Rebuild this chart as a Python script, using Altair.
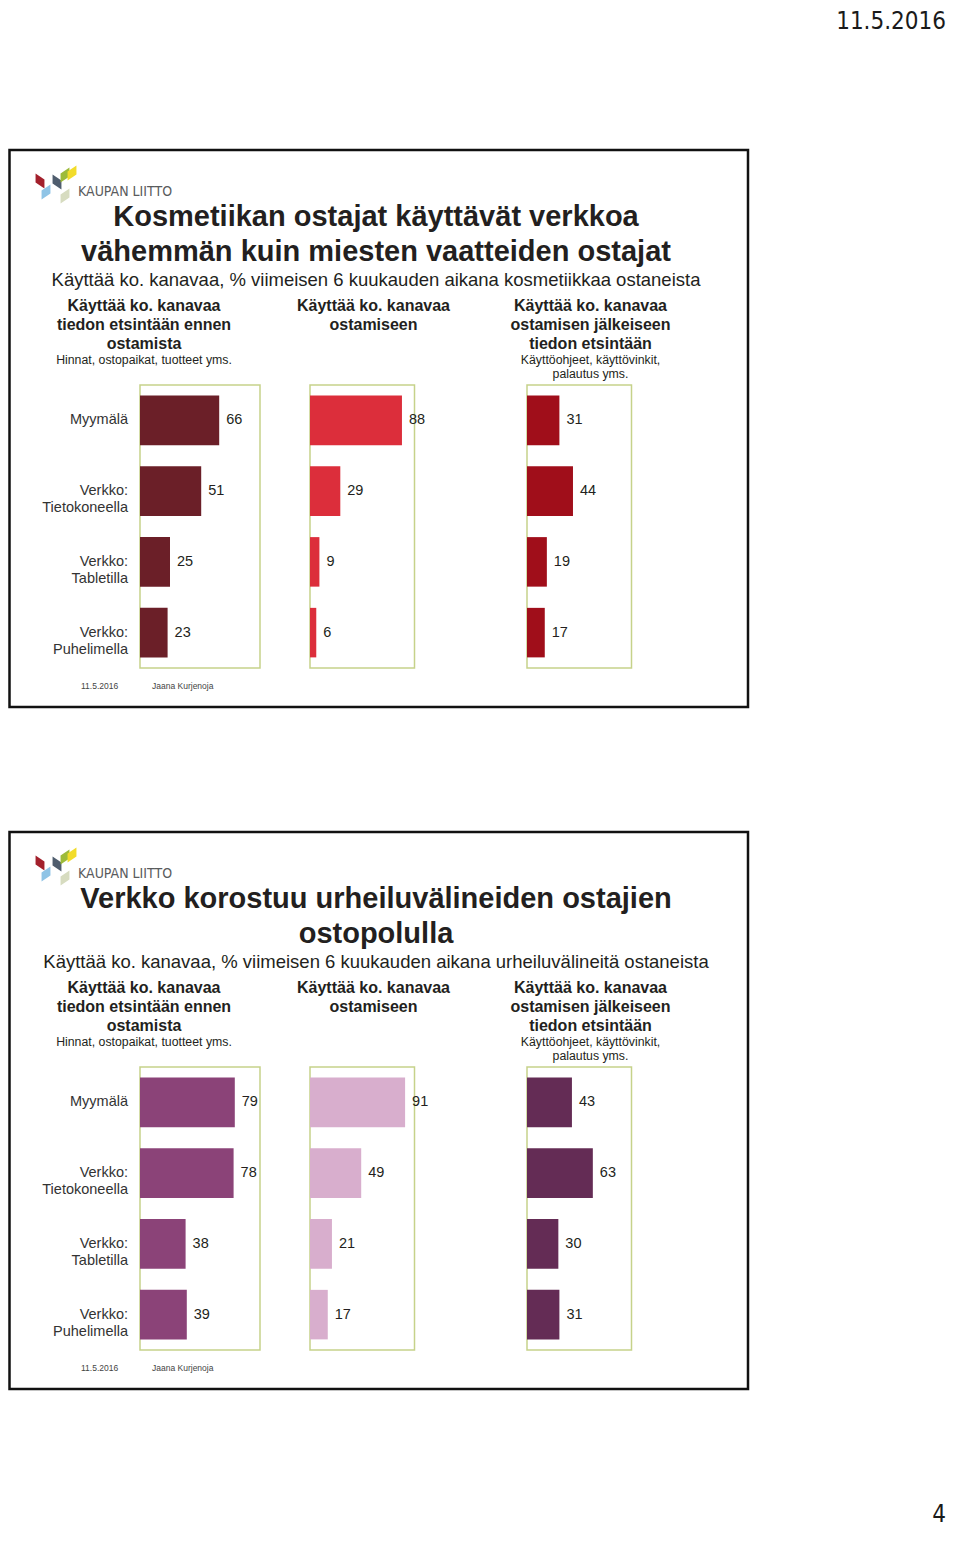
import altair as alt
import pandas as pd

# ---------------- data ----------------
categories = ["Myymälä", "Verkko: Tietokoneella", "Verkko: Tabletilla", "Verkko: Puhelimella"]
cat_labels = ["Myymälä", "Verkko:\nTietokoneella", "Verkko:\nTabletilla", "Verkko:\nPuhelimella"]

# slide 1: kosmetiikka
s1_before = [66, 51, 25, 23]
s1_buy = [88, 29, 9, 6]
s1_after = [31, 44, 19, 17]
# slide 2: urheiluvälineet
s2_before = [79, 78, 38, 39]
s2_buy = [91, 49, 21, 17]
s2_after = [43, 63, 30, 31]

s1_colors = ["#6b1f28", "#dc2e3b", "#a00e1a"]
s2_colors = ["#8b4378", "#d8aecd", "#642c55"]

s1_title = ["Kosmetiikan ostajat käyttävät verkkoa", "vähemmän kuin miesten vaatteiden ostajat"]
s1_sub = "Käyttää ko. kanavaa, % viimeisen 6 kuukauden aikana kosmetiikkaa ostaneista"
s2_title = ["Verkko korostuu urheiluvälineiden ostajien", "ostopolulla"]
s2_sub = "Käyttää ko. kanavaa, % viimeisen 6 kuukauden aikana urheiluvälineitä ostaneista"

head1 = ["Käyttää ko. kanavaa", "tiedon etsintään ennen", "ostamista"]
note1 = ["Hinnat, ostopaikat, tuotteet yms."]
head2 = ["Käyttää ko. kanavaa", "ostamiseen"]
head3 = ["Käyttää ko. kanavaa", "ostamisen jälkeiseen", "tiedon etsintään"]
note3 = ["Käyttöohjeet, käyttövinkit,", "palautus yms."]

page_date = "11.5.2016"
footer_date = "11.5.2016"
footer_author = "Jaana Kurjenoja"
page_number = "4"
logo_text = "KAUPAN LIITTO"
logo_colors = ["#a3202c", "#8fc4e6", "#4f5d6e", "#9dbb3a", "#f2dc2a", "#d7dcc0"]

# ---------------- layout helpers ----------------
SANS = "Liberation Sans, Arial, sans-serif"
NARROW = "Liberation Sans Narrow, DejaVu Sans Condensed, Liberation Sans, sans-serif"
COND = "DejaVu Sans Condensed, Liberation Sans Narrow, sans-serif"
OFF = 8  # page margin


def px(x):
    return x - OFF


def py(y):
    return y - OFF


one = pd.DataFrame({"k": [0]})


def txt(text, x, y, size, weight="normal", align="center", color="#231f20",
        font=SANS, baseline="alphabetic", lh=None):
    kw = dict(align=align, baseline=baseline, fontSize=size, fontWeight=weight,
              color=color, font=font)
    if lh is not None:
        kw["lineHeight"] = lh
    return alt.Chart(one).mark_text(**kw).encode(
        x=alt.value(px(x)), y=alt.value(py(y)), text=alt.value(text))


def panel(values, color, xr, yr, show_cats):
    df = pd.DataFrame({"cat": categories, "label": cat_labels, "v": values})
    xs = alt.Scale(domain=[0, 100], range=[px(xr[0]), px(xr[1])], nice=False)
    ys = alt.Scale(domain=categories, range=[py(yr[0]), py(yr[1])],
                   paddingInner=0.3, paddingOuter=0.15)
    X = alt.X("v:Q", scale=xs, axis=None)
    Y = alt.Y("cat:N", scale=ys, axis=None, sort=categories)
    base = alt.Chart(df)
    out = []
    box = alt.Chart(one).mark_rect(fill=None, stroke="#c6d28a", strokeWidth=1.5).encode(
        x=alt.XDatum(0, type="quantitative", scale=xs, axis=None),
        x2=alt.X2Datum(100),
        y=alt.value(py(yr[0])), y2=alt.value(py(yr[1])))
    out.append(box)
    out.append(base.mark_bar(color=color).encode(x=X, y=Y))
    out.append(base.mark_text(align="left", baseline="middle", dx=7, fontSize=14.5,
                              font=SANS, color="#231f20").encode(x=X, y=Y, text="v:Q"))
    if show_cats:
        out.append(base.mark_text(align="right", baseline="middle", lineBreak="\n",
                                  fontSize=14.5, lineHeight=17, font=SANS,
                                  color="#333333").encode(
            x=alt.value(px(128)), y=Y, text="label:N"))
    return out


def logo(dy):
    shape_a = "M-0.6,-1L0.6,-0.2L0.6,1L-0.6,0.2Z"   # leaning down-right
    shape_b = "M0.6,-1L-0.6,-0.2L-0.6,1L0.6,0.2Z"   # leaning down-left
    pieces = [
        (40, 181, shape_a, 0), (46, 192, shape_b, 1), (57, 182, shape_a, 2),
        (65, 175, shape_b, 3), (72, 173, shape_b, 4), (65, 196, shape_b, 5),
    ]
    out = []
    for (x, y, shp, ci) in pieces:
        out.append(alt.Chart(one).mark_point(filled=True, shape=shp, size=220, opacity=1,
                                             strokeWidth=0, color=logo_colors[ci]).encode(
            x=alt.value(px(x)), y=alt.value(py(y + dy))))
    out.append(txt(logo_text, 78, 196 + dy, 14, align="left", color="#5a5b5d", font=NARROW))
    return out


def slide(dy, title, sub, vals, colors):
    out = []
    out.append(alt.Chart(one).mark_rect(fill=None, stroke="#111111", strokeWidth=2.5).encode(
        x=alt.value(1.5), x2=alt.value(px(748)),
        y=alt.value(py(150 + dy)), y2=alt.value(py(707 + dy))))
    out += logo(dy)
    out.append(txt(title, 376, 226 + dy, 29, weight="bold", lh=35))
    out.append(txt(sub, 376, 286 + dy, 18.5))
    out.append(txt(head1, 144, 311 + dy, 16, weight="bold", lh=19))
    out.append(txt(note1, 144, 364 + dy, 12.3))
    out.append(txt(head2, 373.5, 311 + dy, 16, weight="bold", lh=19))
    out.append(txt(head3, 590.5, 311 + dy, 16, weight="bold", lh=19))
    out.append(txt(note3, 590.5, 364 + dy, 12.3, lh=14))
    yr = (385 + dy, 668 + dy)
    out += panel(vals[0], colors[0], (140, 260), yr, True)
    out += panel(vals[1], colors[1], (310, 414.5), yr, False)
    out += panel(vals[2], colors[2], (527, 631.5), yr, False)
    out.append(txt(footer_date, 81, 689 + dy, 8.5, align="left", color="#444444"))
    out.append(txt(footer_author, 152, 689 + dy, 8.5, align="left", color="#444444"))
    return out


layers = []
layers.append(txt(page_date, 946, 29, 24, align="right", color="#1a1a1a", font=COND))
layers += slide(0, s1_title, s1_sub, [s1_before, s1_buy, s1_after], s1_colors)
layers += slide(682, s2_title, s2_sub, [s2_before, s2_buy, s2_after], s2_colors)
layers.append(txt(page_number, 946, 1522, 24, align="right", color="#1a1a1a", font=COND))

chart = alt.layer(*layers).resolve_scale(x="independent", y="independent").properties(
    width=944, height=1522, padding=0, autosize="none"
).configure_view(stroke=None)

chart.save("out.html", embed_options={"renderer": "svg", "actions": False})
